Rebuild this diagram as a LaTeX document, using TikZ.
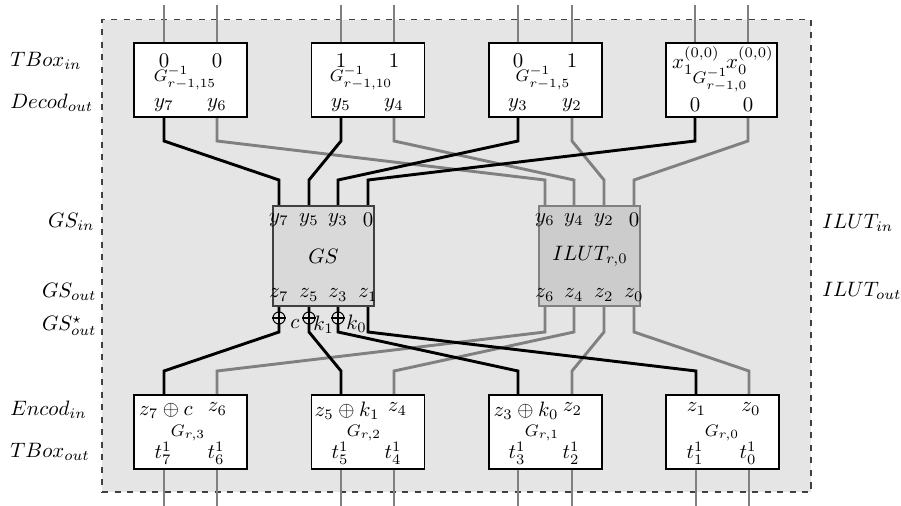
\documentclass[tikz,border=0pt]{standalone}
\usetikzlibrary{calc}
\newcommand{\pxu}{0.48pt}
\begin{document}
\begin{tikzpicture}[x=0.48pt,y=-0.48pt,
  wireb/.style={line width=1.4pt, black},
  wireg/.style={line width=1.4pt, gray},
  tbox/.style={draw=black, fill=white, line width=0.5pt, minimum width=113*\pxu, minimum height=74*\pxu, inner sep=0pt},
  lab/.style={inner sep=0pt},
  glab/.style={inner sep=0pt, font=\footnotesize},
  xorc/.style={circle, draw=black, fill=gray!20, line width=0.5pt, minimum size=12*\pxu, inner sep=0pt},
]
\useasboundingbox (0,0) rectangle (901,506);
% background frame
\node[draw=black!75, dashed, fill=gray!20, line width=0.5pt, minimum width=709*\pxu, minimum height=472.5*\pxu, inner sep=0pt] (bg) at (456.5,255.75) {};

% bend levels
\coordinate (ytop) at (0,5);
\coordinate (ya) at (0,141);
\coordinate (yb) at (0,180);
\coordinate (yc) at (0,332);
\coordinate (yd) at (0,371);
\coordinate (ybot) at (0,506);

% pins of top boxes
\foreach \n/\x in {1/164, 2/217, 3/341, 4/394, 5/518, 6/572, 7/695, 8/748} {
  \coordinate (dt\n) at (\x,43);
  \coordinate (db\n) at (\x,117);
}
% pins of bottom boxes
\foreach \n/\x in {1/164, 2/217, 3/341, 4/394, 5/518, 6/572, 7/696, 8/749} {
  \coordinate (et\n) at (\x,395);
  \coordinate (eb\n) at (\x,469);
}
% pins of GS and ILUT
\foreach \n/\x in {1/279, 2/309, 3/338, 4/368} {
  \coordinate (gi\n) at (\x,206);
  \coordinate (go\n) at (\x,306);
}
\foreach \n/\x in {1/545, 2/574, 3/604, 4/634} {
  \coordinate (ii\n) at (\x,206);
  \coordinate (io\n) at (\x,306);
}

% outer wires
\foreach \n in {1,...,8} {
  \draw[wireg] (dt\n |- ytop) -- (dt\n);
  \draw[wireg] (eb\n) -- (eb\n |- ybot);
}

% gray wires
\foreach \a/\b in {db2/ii1, db4/ii2, db6/ii3, db8/ii4}
  \draw[wireg] (\a) -- (\a |- ya) -- (\b |- yb) -- (\b);
\foreach \a/\b in {io1/et2, io2/et4, io3/et6, io4/et8}
  \draw[wireg] (\a) -- (\a |- yc) -- (\b |- yd) -- (\b);
% black wires
\foreach \a/\b in {db1/gi1, db3/gi2, db5/gi3, db7/gi4}
  \draw[wireb] (\a) -- (\a |- ya) -- (\b |- yb) -- (\b);
\foreach \a/\b in {go1/et1, go2/et3, go3/et5, go4/et7}
  \draw[wireb] (\a) -- (\a |- yc) -- (\b |- yd) -- (\b);

% top boxes
\node[tbox] (D1) at (190.5,80) {};
\node[tbox] (D2) at (368,80) {};
\node[tbox] (D3) at (545.5,80) {};
\node[tbox, minimum width=111*\pxu] (D4) at (721.5,80) {};
% bottom boxes
\node[tbox] (E1) at (190.5,432) {};
\node[tbox] (E2) at (368,432) {};
\node[tbox] (E3) at (545.5,432) {};
\node[tbox] (E4) at (722.5,432) {};

% GS and ILUT
\node[draw=black!75, fill=gray!30, line width=0.6pt, minimum width=101*\pxu, minimum height=100*\pxu, inner sep=0pt] (GS) at (323.5,256) {};
\node[draw=gray, fill=gray!40, line width=0.6pt, minimum width=101*\pxu, minimum height=100*\pxu, inner sep=0pt] (IL) at (589.5,256) {};

% XOR circles
\foreach \n/\x in {1/279, 2/309, 3/338} {
  \node[xorc] (x\n) at (\x,318) {};
  \draw[line width=0.5pt] (x\n.north) -- (x\n.south) (x\n.west) -- (x\n.east);
}
\node[lab, anchor=west] (lc) at (290,324) {$c$};
\node[lab, anchor=west] (lk1) at (313,325) {$k_1$};
\node[lab, anchor=west] (lk0) at (346,324) {$k_0$};

% top box texts
\node[lab] (t11) at (164,60.5) {$0$};
\node[lab] (t12) at (217,60.5) {$0$};
\node[lab] (t13) at (341,60.5) {$1$};
\node[lab] (t14) at (394,60.5) {$1$};
\node[lab] (t15) at (518,60.5) {$0$};
\node[lab] (t16) at (572,60.5) {$1$};
\node[lab] (t17) at (696,60.5) {$x_1^{(0,0)}$};
\node[lab] (t18) at (750,60.5) {$x_0^{(0,0)}$};
\node[lab] (t21) at (164,105) {$y_7$};
\node[lab] (t22) at (217,105) {$y_6$};
\node[lab] (t23) at (341,105) {$y_5$};
\node[lab] (t24) at (394,105) {$y_4$};
\node[lab] (t25) at (518,105) {$y_3$};
\node[lab] (t26) at (572,105) {$y_2$};
\node[lab] (t27) at (695,105) {$0$};
\node[lab] (t28) at (748,105) {$0$};
\node[glab] (g1) at (185,78) {$G^{-1}_{r-1,15}$};
\node[glab] (g2) at (361,78) {$G^{-1}_{r-1,10}$};
\node[glab] (g3) at (543,78) {$G^{-1}_{r-1,5}$};
\node[glab] (g4) at (720,80) {$G^{-1}_{r-1,0}$};

% GS / ILUT texts
\node[lab] (s1) at (279,220) {$y_7$};
\node[lab] (s2) at (309,220) {$y_5$};
\node[lab] (s3) at (338,220) {$y_3$};
\node[lab] (s4) at (368,220) {$0$};
\node[lab] (sg) at (323.5,256.5) {$GS$};
\node[lab] (s5) at (279,295) {$z_7$};
\node[lab] (s6) at (309,295) {$z_5$};
\node[lab] (s7) at (338,295) {$z_3$};
\node[lab] (s8) at (368,295) {$z_1$};
\node[lab] (i1) at (545,220) {$y_6$};
\node[lab] (i2) at (574,220) {$y_4$};
\node[lab] (i3) at (604,220) {$y_2$};
\node[lab] (i4) at (634,220) {$0$};
\node[lab] (ig) at (590,256.5) {$ILUT_{r,0}$};
\node[lab] (i5) at (545,295) {$z_6$};
\node[lab] (i6) at (574,295) {$z_4$};
\node[lab] (i7) at (604,295) {$z_2$};
\node[lab] (i8) at (634,295) {$z_0$};

% bottom box texts
\node[lab] (b11) at (166,411) {$z_7\oplus c$};
\node[lab] (b12) at (217.5,409) {$z_6$};
\node[lab] (b13) at (347,411) {$z_5\oplus k_1$};
\node[lab] (b14) at (397.5,409) {$z_4$};
\node[lab] (b15) at (526,411) {$z_3\oplus k_0$};
\node[lab] (b16) at (572.5,409) {$z_2$};
\node[lab] (b17) at (696.5,409) {$z_1$};
\node[lab] (b18) at (751,409) {$z_0$};
\node[lab] (b21) at (163,453) {$t_7^1$};
\node[lab] (b22) at (216,453) {$t_6^1$};
\node[lab] (b23) at (340,453) {$t_5^1$};
\node[lab] (b24) at (393,453) {$t_4^1$};
\node[lab] (b25) at (517,453) {$t_3^1$};
\node[lab] (b26) at (571,453) {$t_2^1$};
\node[lab] (b27) at (695,453) {$t_1^1$};
\node[lab] (b28) at (748,453) {$t_0^1$};
\node[glab] (h1) at (188,433) {$G_{r,3}$};
\node[glab] (h2) at (364,433) {$G_{r,2}$};
\node[glab] (h3) at (542,433) {$G_{r,1}$};
\node[glab] (h4) at (722,433) {$G_{r,0}$};

% side labels
\node[lab, anchor=west] (L1) at (10,60.5) {$TBox_{in}$};
\node[lab, anchor=west] (L2) at (10,103) {$Decod_{out}$};
\node[lab, anchor=east] (L3) at (95,222) {$GS_{in}$};
\node[lab, anchor=east] (L4) at (97,292) {$GS_{out}$};
\node[lab, anchor=east] (L5) at (97,326) {$GS^{\star}_{out}$};
\node[lab, anchor=west] (L6) at (10,410) {$Encod_{in}$};
\node[lab, anchor=west] (L7) at (10,452) {$TBox_{out}$};
\node[lab, anchor=west] (R1) at (822,223) {$ILUT_{in}$};
\node[lab, anchor=west] (R2) at (822,291) {$ILUT_{out}$};
\end{tikzpicture}
\end{document}
